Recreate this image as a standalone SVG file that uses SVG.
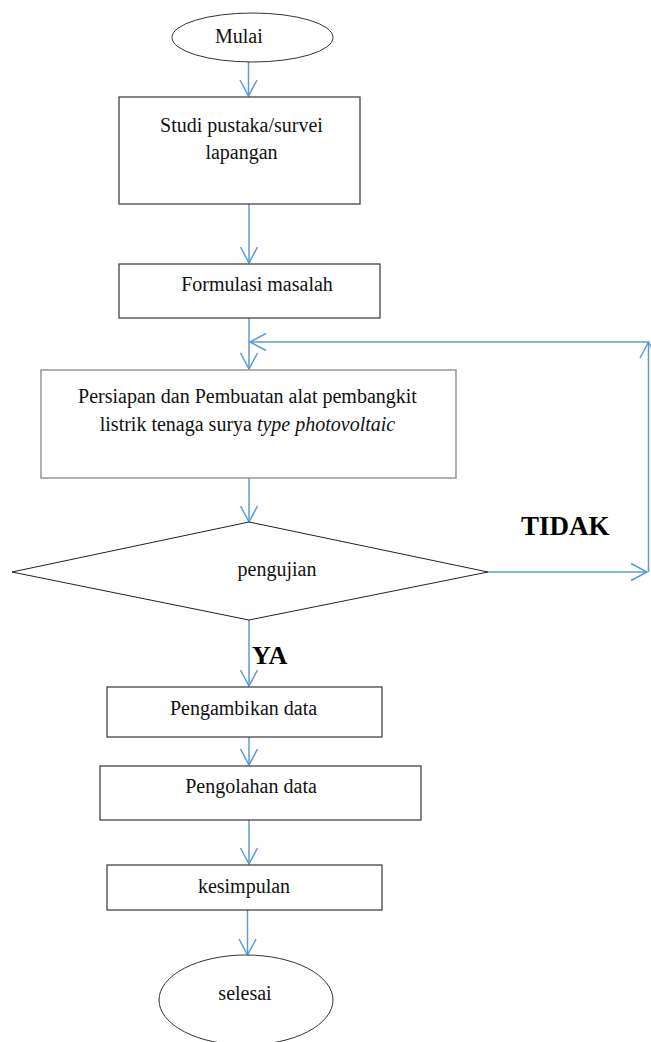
<svg xmlns="http://www.w3.org/2000/svg" width="651" height="1042" viewBox="0 0 651 1042">
<style>
  .t{font-family:"Liberation Serif","Times New Roman",serif;font-size:20px;fill:#111}
  .b{font-family:"Liberation Serif","Times New Roman",serif;font-weight:bold;fill:#000}
  .box{fill:#fff;stroke:#444;stroke-width:1.3}
  .term{fill:#fff;stroke:#333;stroke-width:1}
  .dec{fill:#fff;stroke:#222;stroke-width:1}
  .c{fill:none;stroke:#5B9BD5;stroke-width:1.5}
</style>
<defs>
  <marker id="ah" markerUnits="userSpaceOnUse" markerWidth="40" markerHeight="40" viewBox="-20 -20 40 40" refX="0" refY="0" orient="auto" overflow="visible">
    <path d="M-16,-8.5 L0,0 L-16,8.5" fill="none" stroke="#5B9BD5" stroke-width="1.5"/>
  </marker>
</defs>
<rect width="651" height="1042" fill="#fff"/>
<g id="connectors">
  <line class="c" x1="248.5" y1="62" x2="248.5" y2="96" marker-end="url(#ah)"/>
  <line class="c" x1="249" y1="204" x2="249" y2="263" marker-end="url(#ah)"/>
  <line class="c" x1="249" y1="318" x2="249" y2="369" marker-end="url(#ah)"/>
  <line class="c" x1="249" y1="478" x2="249" y2="522" marker-end="url(#ah)"/>
  <line class="c" x1="488" y1="572" x2="647" y2="572" marker-end="url(#ah)"/>
  <line class="c" x1="648.5" y1="572" x2="648.5" y2="342" marker-end="url(#ah)"/>
  <line class="c" x1="648.5" y1="342" x2="250" y2="342" marker-end="url(#ah)"/>
  <line class="c" x1="249" y1="620" x2="249" y2="686" marker-end="url(#ah)"/>
  <line class="c" x1="249" y1="737" x2="249" y2="765" marker-end="url(#ah)"/>
  <line class="c" x1="249" y1="820" x2="249" y2="864" marker-end="url(#ah)"/>
  <line class="c" x1="247.5" y1="910" x2="247.5" y2="955" marker-end="url(#ah)"/>
</g>
<g id="mulai">
  <ellipse class="term" cx="252.5" cy="37.5" rx="80.5" ry="24.5"/>
  <text class="t" x="215" y="43">Mulai</text>
</g>
<g id="studi">
  <rect class="box" x="119" y="97" width="241" height="107"/>
  <text class="t" x="241.5" y="132" text-anchor="middle">Studi pustaka/survei</text>
  <text class="t" x="241.5" y="159" text-anchor="middle">lapangan</text>
</g>
<g id="formulasi">
  <rect class="box" x="119" y="264" width="261" height="54"/>
  <text class="t" x="257" y="291" text-anchor="middle">Formulasi masalah</text>
</g>
<g id="persiapan">
  <rect class="box" x="41" y="370" width="415" height="108" style="stroke:#888"/>
  <text class="t" x="247.5" y="403" text-anchor="middle">Persiapan dan Pembuatan alat pembangkit</text>
  <text class="t" x="247.5" y="431" text-anchor="middle">listrik tenaga surya <tspan font-style="italic">type photovoltaic</tspan></text>
</g>
<g id="pengujian">
  <polygon class="dec" points="12,572 249,522 488,572 249,620"/>
  <text class="t" x="277" y="576" text-anchor="middle">pengujian</text>
</g>
<g id="label-tidak">
  <text class="b" x="521" y="535" font-size="27">TIDAK</text>
</g>
<g id="label-ya">
  <text class="b" x="252" y="664" font-size="26">YA</text>
</g>
<g id="pengambikan">
  <rect class="box" x="107" y="687" width="275" height="50"/>
  <text class="t" x="243.5" y="715" text-anchor="middle">Pengambikan data</text>
</g>
<g id="pengolahan">
  <rect class="box" x="100" y="766" width="321" height="54"/>
  <text class="t" x="251" y="793" text-anchor="middle">Pengolahan data</text>
</g>
<g id="kesimpulan">
  <rect class="box" x="107" y="865" width="275" height="45"/>
  <text class="t" x="244" y="893" text-anchor="middle">kesimpulan</text>
</g>
<g id="selesai">
  <ellipse class="term" cx="246" cy="1000" rx="87" ry="45"/>
  <text class="t" x="245" y="1000" text-anchor="middle" font-size="21">selesai</text>
</g>
</svg>
